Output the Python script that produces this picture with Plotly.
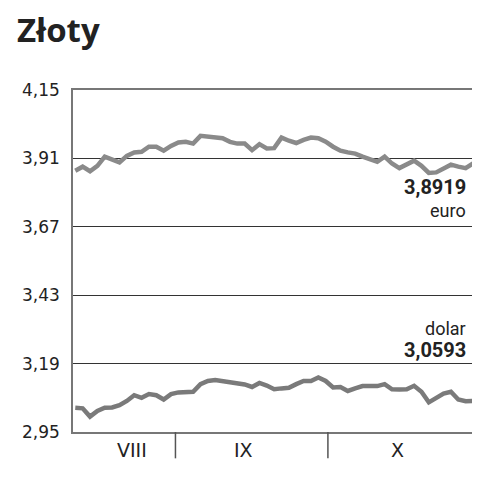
import plotly.graph_objects as go

title = "Złoty"
y_ticks = [2.95, 3.19, 3.43, 3.67, 3.91, 4.15]
y_tick_labels = ["2,95", "3,19", "3,43", "3,67", "3,91", "4,15"]
months = ["VIII", "IX", "X"]
month_label_pos = [7.7, 22.8, 43.7]
month_separators = [13.6, 34.3]

euro = [3.867, 3.881, 3.865, 3.884, 3.916, 3.904, 3.896, 3.919, 3.931, 3.933,
        3.951, 3.951, 3.937, 3.954, 3.966, 3.968, 3.962, 3.989, 3.986, 3.983,
        3.981, 3.968, 3.962, 3.962, 3.939, 3.960, 3.945, 3.946, 3.983, 3.972,
        3.964, 3.975, 3.983, 3.981, 3.969, 3.951, 3.937, 3.931, 3.927, 3.916,
        3.905, 3.898, 3.916, 3.892, 3.876, 3.887, 3.902, 3.884, 3.859, 3.861,
        3.873, 3.888, 3.881, 3.876, 3.892]
dolar = [3.035, 3.033, 3.004, 3.024, 3.035, 3.036, 3.044, 3.059, 3.079, 3.070,
         3.083, 3.079, 3.064, 3.083, 3.089, 3.091, 3.091, 3.118, 3.129, 3.132,
         3.129, 3.125, 3.121, 3.117, 3.108, 3.122, 3.113, 3.100, 3.103, 3.105,
         3.118, 3.129, 3.129, 3.141, 3.129, 3.106, 3.108, 3.094, 3.103, 3.111,
         3.111, 3.111, 3.118, 3.100, 3.099, 3.100, 3.112, 3.091, 3.054, 3.068,
         3.085, 3.091, 3.064, 3.058, 3.059]
days = list(range(len(euro)))

euro_label = ("3,8919", "euro")
dolar_label = ("dolar", "3,0593")

FONT = "Roboto"
TICKFONT = "DejaVu Sans"
TXT = "#222222"

fig = go.Figure()
fig.add_trace(go.Scatter(x=days, y=euro, mode="lines",
                         line=dict(color="#8a8a8a", width=4.5), hoverinfo="skip"))
fig.add_trace(go.Scatter(x=days, y=dolar, mode="lines",
                         line=dict(color="#7a7a7a", width=4.5), hoverinfo="skip"))

annotations = [
    dict(text="<b>" + title + "</b>", xref="paper", yref="paper", x=-0.145, y=1.178,
         xanchor="left", yanchor="middle", showarrow=False,
         font=dict(family="Open Sans", size=33, color=TXT)),
    dict(text="<b>" + euro_label[0] + "</b>", xref="paper", yref="paper", x=0.982, y=0.715,
         xanchor="right", yanchor="middle", showarrow=False,
         font=dict(family=FONT, size=20, color=TXT)),
    dict(text=euro_label[1], xref="paper", yref="paper", x=0.982, y=0.648,
         xanchor="right", yanchor="middle", showarrow=False,
         font=dict(family=FONT, size=18, color=TXT)),
    dict(text=dolar_label[0], xref="paper", yref="paper", x=0.982, y=0.304,
         xanchor="right", yanchor="middle", showarrow=False,
         font=dict(family=FONT, size=18, color=TXT)),
    dict(text="<b>" + dolar_label[1] + "</b>", xref="paper", yref="paper", x=0.982, y=0.239,
         xanchor="right", yanchor="middle", showarrow=False,
         font=dict(family=FONT, size=20, color=TXT)),
]
for m, p in zip(months, month_label_pos):
    annotations.append(dict(text=m, xref="x", yref="paper", x=p, y=-0.053,
                            xanchor="center", yanchor="middle", showarrow=False,
                            font=dict(family=TICKFONT, size=19, color=TXT)))

shapes = []
for s in month_separators:
    shapes.append(dict(type="line", xref="x", yref="paper", x0=s, x1=s, y0=0, y1=-0.077,
                       line=dict(color="#555555", width=1.5)))

fig.update_layout(
    width=480, height=480,
    margin=dict(l=65, r=13, t=82, b=56),
    paper_bgcolor="white", plot_bgcolor="white",
    showlegend=False,
    annotations=annotations,
    shapes=shapes,
    xaxis=dict(range=[-0.31, 54.27], showgrid=False, zeroline=False,
               showticklabels=False, ticks="",
               showline=True, mirror=True, linecolor="#777777", linewidth=1.5),
    yaxis=dict(range=[2.95, 4.15], tickvals=y_ticks, ticktext=y_tick_labels,
               showgrid=True, gridcolor="#333333", gridwidth=1, zeroline=False,
               ticks="", ticklabelstandoff=8,
               tickfont=dict(family=TICKFONT, size=17, color=TXT),
               showline=True, mirror=True, linecolor="#777777", linewidth=1.5),
)

fig.write_html("out.html")
